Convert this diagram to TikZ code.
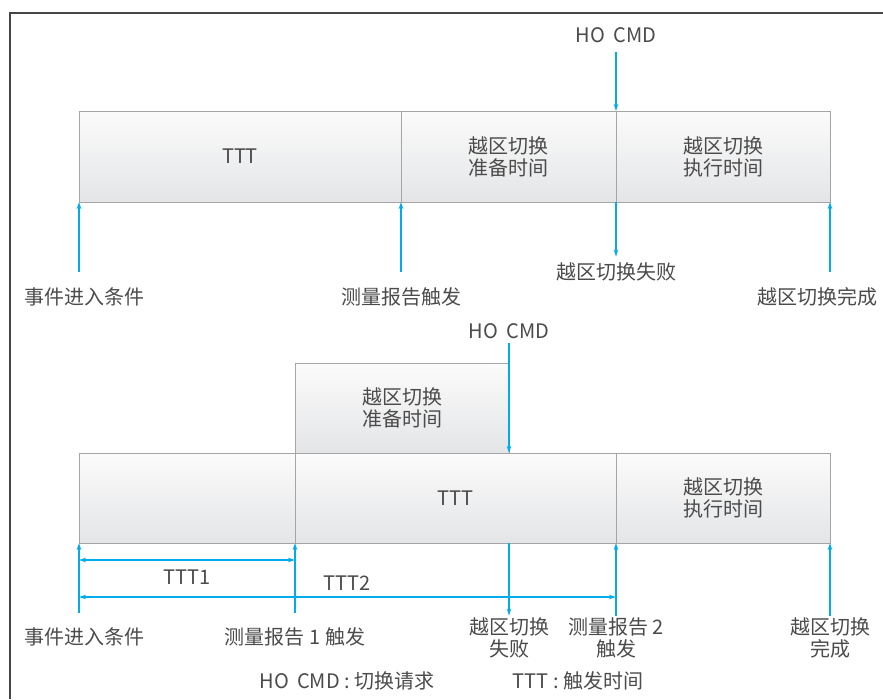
\documentclass[tikz,border=0pt]{standalone}
\usepackage{fontspec}
\setmainfont{Noto Sans CJK SC}
\usetikzlibrary{arrows.meta}
\definecolor{evtblue}{RGB}{0,172,236}
\definecolor{barline}{RGB}{165,165,165}
\definecolor{bartop}{RGB}{251,251,251}
\definecolor{barbot}{RGB}{228,229,231}
\definecolor{txtgray}{RGB}{75,75,75}
\definecolor{framegray}{RGB}{70,70,70}
\tikzset{
  seg/.style={draw=barline, line width=1pt, top color=bartop, bottom color=barbot, anchor=north west, inner sep=0pt, outer sep=0pt, align=center, text=txtgray, font=\fontsize{20}{22}\selectfont},
  lbl/.style={text=txtgray, align=center, inner sep=2pt, font=\fontsize{20}{22}\selectfont},
  evt/.style={draw=evtblue, line width=1.4pt, -{Stealth[length=7pt,width=4.5pt]}},
  span/.style={draw=evtblue, line width=1.4pt, {Stealth[length=7pt,width=4.5pt]}-{Stealth[length=7pt,width=4.5pt]}}
}
\newcommand{\hocmd}{HO\hspace{0.4em}CMD}
\newcommand{\keycolon}{\hspace{0.25em}:\hspace{0.2em}}
\begin{document}
\begin{tikzpicture}[x=1pt,y=-1pt]
    \useasboundingbox (0,0) rectangle (883,699);
    \draw[framegray, line width=1.2pt] (10,699) -- (10,13) -- (883,13);

    %upper
    \node[seg, minimum width=322pt, minimum height=91pt] (u1) at (79,111) {TTT};
    \node[seg, minimum width=215pt, minimum height=91pt] (u2) at (u1.north east) {越区切换\\准备时间};
    \node[seg, minimum width=214pt, minimum height=91pt] (u3) at (u2.north east) {越区切换\\执行时间};
    \node[lbl] (hoU) at (616,35) {\hocmd};
    \draw[evt, shorten <=7pt] (hoU) -- (u3.north west);
    \node[lbl] (failU) at (616,272) {越区切换失败};
    \draw[evt, shorten >=4pt] (u3.south west) -- (failU);
    \node[lbl] (enterU) at (84,297) {事件进入条件};
    \node[lbl] (reportU) at (401,297) {测量报告触发};
    \node[lbl] (doneU) at (817,297) {越区切换完成};
    \coordinate (a1) at (79,272);
    \coordinate (a2) at (401,272);
    \coordinate (a3) at (830,272);
    \draw[evt] (a1) -- (u1.south west);
    \draw[evt] (a2) -- (u2.south west);
    \draw[evt] (a3) -- (u3.south east);

    %lower
    \node[seg, minimum width=216pt, minimum height=90pt] (d1) at (79,453) {};
    \node[seg, minimum width=321pt, minimum height=90pt] (d2) at (d1.north east) {TTT};
    \node[seg, minimum width=214pt, minimum height=90pt] (d3) at (d2.north east) {越区切换\\执行时间};
    \node[seg, minimum width=214pt, minimum height=90pt, anchor=south west] (prep) at (d2.north west) {越区切换\\准备时间};
    \node[lbl] (hoD) at (509,331) {\hocmd};
    \draw[evt, shorten <=2pt] (hoD) -- (prep.south east);
    \node[lbl] (failD) at (509,638) {越区切换\\失败};
    \draw[evt] (prep.south east |- d2.south) -- (failD);
    \node[lbl] (enterD) at (84,637) {事件进入条件};
    \node[lbl] (rep1D) at (295,637) {测量报告 1 触发};
    \node[lbl] (rep2D) at (616,638) {测量报告 2\\触发};
    \node[lbl] (doneD) at (830,638) {越区切换\\完成};
    \coordinate (b1) at (79,613);
    \coordinate (b2) at (295,613);
    \draw[evt] (b1) -- (d1.south west);
    \draw[evt] (b2) -- (d2.south west);
    \draw[evt] (rep2D) -- (d3.south west);
    \draw[evt] (doneD) -- (d3.south east);

    %TTT1, TTT2
    \coordinate (t1a) at (79,560);
    \coordinate (t1b) at (295,560);
    \coordinate (t2a) at (79,597);
    \coordinate (t2b) at (616,597);
    \draw[span] (t1a) -- (t1b);
    \draw[span] (t2a) -- (t2b);
    \node[lbl] (ttt1) at (187,577) {TTT1};
    \node[lbl] (ttt2) at (347,583) {TTT2};

    %legend
    \node[lbl] (keyHO) at (347,681) {\hocmd\keycolon 切换请求};
    \node[lbl] (keyTTT) at (578,681) {TTT\keycolon 触发时间};
\end{tikzpicture}
\end{document}
